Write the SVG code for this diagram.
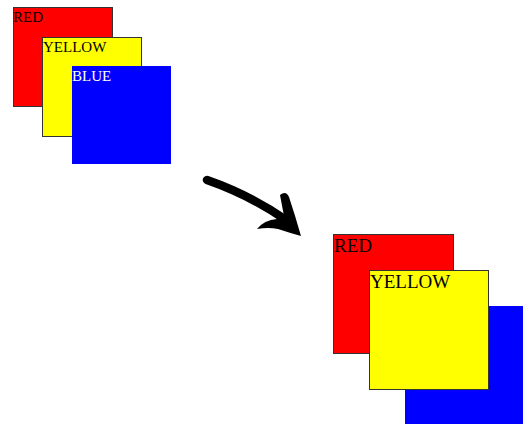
<svg xmlns="http://www.w3.org/2000/svg" width="527" height="424" viewBox="0 0 527 424">
<style>
text{font-family:"Liberation Serif","Times New Roman",serif;}
.r{fill:#ff0000;stroke:#333;stroke-width:1}
.y{fill:#ffff00;stroke:#333;stroke-width:1}
.b{fill:#0000ff}
.s{font-size:15px}
.l{font-size:19px}
</style>
<rect width="527" height="424" fill="#fff"/>
<g id="before">
<g id="red1"><rect class="r" x="13.5" y="7.5" width="99" height="99"/><text class="s" x="13" y="22">RED</text></g>
<g id="yellow1"><rect class="y" x="42.5" y="37.5" width="99" height="99"/><text class="s" x="43" y="52">YELLOW</text></g>
<g id="blue1"><rect class="b" x="72" y="66" width="99" height="98"/><text class="s" x="72" y="81" fill="#fff">BLUE</text></g>
</g>
<g id="connectors">
<path d="M207,180 Q250,195 286,220" fill="none" stroke="#000" stroke-width="8.5" stroke-linecap="round"/>
<path d="M280,195 Q286,190 289,197 Q295,215 301,236 Q290,233 278,229 Q268,227 257,229 Q264,220 277,219 L284,216 Z" fill="#000"/>
</g>
<g id="after">
<g id="red2"><rect class="r" x="333.5" y="234.5" width="120" height="119"/><text class="l" x="334" y="252">RED</text></g>
<g id="blue2"><rect class="b" x="405" y="306" width="118" height="118"/></g>
<g id="yellow2"><rect class="y" x="369.5" y="270.5" width="119" height="119"/><text class="l" x="370" y="288">YELLOW</text></g>
</g>
</svg>
